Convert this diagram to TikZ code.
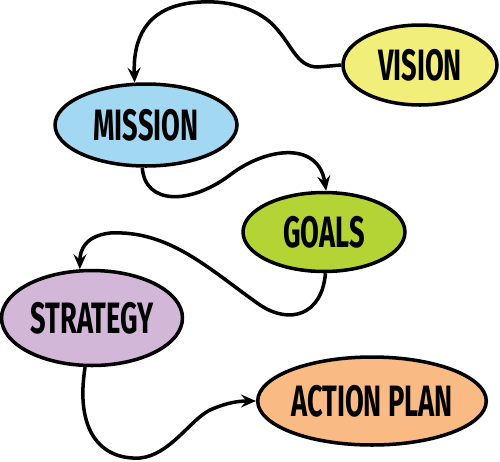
\documentclass[tikz,border=0pt]{standalone}
\usepackage{fontspec}
\newfontfamily\handfont[FakeStretch=0.62]{Fira Sans}
\definecolor{visionyellow}{RGB}{241, 239, 122}
\definecolor{missionblue}{RGB}{162, 216, 242}
\definecolor{goalsgreen}{RGB}{180, 211, 52}
\definecolor{strategypurple}{RGB}{211, 183, 216}
\definecolor{actionorange}{RGB}{250, 186, 132}
\usetikzlibrary{shapes.geometric, arrows.meta}
\tikzset{
    bubble/.style={ellipse, draw=black, line width=2pt, inner sep=0pt,
                   font=\handfont\bfseries\fontsize{25}{25}\selectfont},
    arrow/.style={-{Stealth[length=3mm, width=2.6mm, inset=1.1mm]}, line width=2pt, black},
}
\begin{document}
\begin{tikzpicture}[x=0.02cm, y=-0.02cm]
    \useasboundingbox (0,0) rectangle (500,461);

    \node[bubble, fill=visionyellow, minimum width=3.08cm, minimum height=1.6cm] (vision) at (420,65) {VISION};
    \node[bubble, fill=missionblue, minimum width=3.64cm, minimum height=1.64cm] (mission) at (146,125) {MISSION};
    \node[bubble, fill=goalsgreen, minimum width=3.24cm, minimum height=1.58cm] (goals) at (324,232) {GOALS};
    \node[bubble, fill=strategypurple, minimum width=3.62cm, minimum height=1.9cm] (strategy) at (92,318) {STRATEGY};
    \node[bubble, fill=actionorange, minimum width=4.5cm, minimum height=1.76cm] (action) at (372,401) {ACTION PLAN};

    \draw[arrow] (vision.west) -- (318,67) .. controls (295,67) and (292,42) .. (270,22)
        .. controls (250,5) and (220,-1) .. (190,3) .. controls (145,9) and (133,40) .. (mission.105);
    \draw[arrow] (mission.265) .. controls (145,205) and (190,205) .. (230,175)
        .. controls (265,148) and (318,140) .. (goals.87);
    \draw[arrow] (goals.272) .. controls (322,315) and (290,325) .. (260,305)
        .. controls (210,270) and (170,230) .. (110,233) .. controls (85,236) and (80,250) .. (strategy.104);
    \draw[arrow] (strategy.262) .. controls (75,430) and (100,460) .. (140,458)
        .. controls (170,455) and (190,420) .. (210,410) .. controls (228,402) and (240,401) .. (action.west);
\end{tikzpicture}
\end{document}
